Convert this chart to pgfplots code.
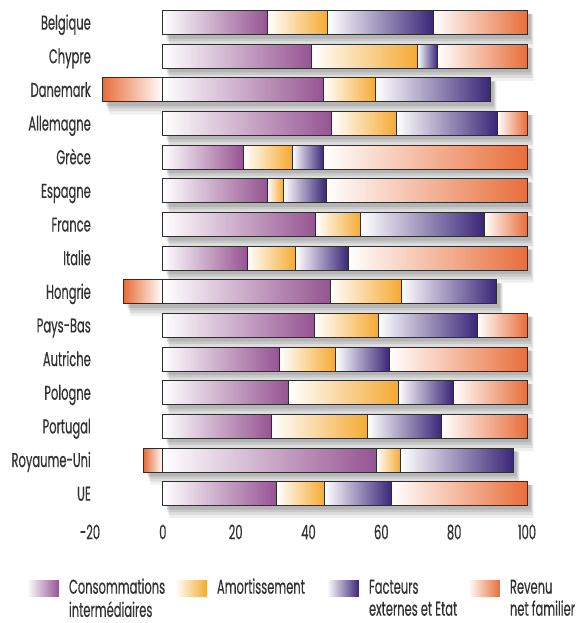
\documentclass[border=0pt]{standalone}
\usepackage{pgfplots}
\pgfplotsset{compat=1.18}
\usepackage{pgfplotstable}
\usepackage{fontspec}
\setmainfont{Poppins}[FakeStretch=0.575, FakeBold=0.4]
\definecolor{cons}{RGB}{150,84,146}
\definecolor{amort}{RGB}{245,170,50}
\definecolor{fact}{RGB}{58,38,120}
\definecolor{rev}{RGB}{232,110,58}
\definecolor{txt}{RGB}{50,50,50}
\definecolor{edge}{RGB}{45,45,45}

% idx: 0 = Belgique (top) ... 14 = UE (bottom)
\pgfplotstableread{
idx Cons Amort Fact Rev Tot
0  28.7 16.5 29.1 25.7 100
1  40.8 29.0 5.6  24.6 100
2  44.2 14.2 31.5 0    89.9
3  46.4 17.7 27.7 8.2  100
4  22.1 13.4 8.7  55.8 100
5  28.6 4.5  11.7 55.2 100
6  42.0 12.4 33.8 11.8 100
7  23.1 13.4 14.4 49.1 100
8  45.9 19.5 26.2 0    91.6
9  41.6 17.5 27.3 13.6 100
10 32.0 15.4 14.8 37.8 100
11 34.5 30.1 15.1 20.3 100
12 29.8 26.5 20.3 23.4 100
13 58.6 6.7  30.9 0    96.2
14 31.3 13.1 18.4 37.2 100
}\data

\pgfplotstableread{
idx Neg
2  -16.5
8  -10.7
13 -5.2
}\neg

\pgfplotsset{
  base/.style={scale only axis, width=437bp, height=504.7bp,
    xmin=-20, xmax=100, ymin=-0.5, ymax=14.5, y dir=reverse,
    at={(90bp,-510.5bp)}, anchor=south west, clip=false},
  shadowlayer/.style={fill=black, draw=none, bar shift=0pt},
  seg/.style={draw=edge, line width=0.9bp, left color=white},
  negbar/.style={draw=edge, line width=0.9bp, bar shift=0pt, bar width=24bp,
    left color=rev, right color=white}
}
\newcommand{\lf}{\fontsize{20bp}{22bp}\selectfont}

\begin{document}
\begin{tikzpicture}
\path[use as bounding box] (0,0) rectangle (577bp,-623bp);

% shadows and negative bars
\begin{axis}[base, hide axis, xbar]
\addplot[shadowlayer, fill opacity=0.06, bar width=33bp, xshift=6.5bp, yshift=-8bp] table[x=Tot,y=idx]{\data};
\addplot[shadowlayer, fill opacity=0.08, bar width=30bp, xshift=5.5bp, yshift=-6.5bp] table[x=Tot,y=idx]{\data};
\addplot[shadowlayer, fill opacity=0.09, bar width=27bp, xshift=4.5bp, yshift=-5bp] table[x=Tot,y=idx]{\data};
\addplot[shadowlayer, fill opacity=0.10, bar width=25bp, xshift=3.5bp, yshift=-3.5bp] table[x=Tot,y=idx]{\data};
\addplot[shadowlayer, fill opacity=0.06, bar width=33bp, xshift=6.5bp, yshift=-8bp] table[x=Neg,y=idx]{\neg};
\addplot[shadowlayer, fill opacity=0.08, bar width=30bp, xshift=5.5bp, yshift=-6.5bp] table[x=Neg,y=idx]{\neg};
\addplot[shadowlayer, fill opacity=0.09, bar width=27bp, xshift=4.5bp, yshift=-5bp] table[x=Neg,y=idx]{\neg};
\addplot[shadowlayer, fill opacity=0.10, bar width=25bp, xshift=3.5bp, yshift=-3.5bp] table[x=Neg,y=idx]{\neg};
\addplot[negbar, restrict expr to domain={\coordindex}{0:0}] table[x=Neg,y=idx]{\neg};
\addplot[negbar, restrict expr to domain={\coordindex}{1:1}] table[x=Neg,y=idx]{\neg};
\addplot[negbar, restrict expr to domain={\coordindex}{2:2}] table[x=Neg,y=idx]{\neg};
\end{axis}

% stacked bars, one axis per country so that each segment is shaded on its own
\pgfplotsinvokeforeach{0,...,14}{
  \pgfplotstablegetelem{#1}{Rev}\of\data
  \pgfmathtruncatemacro\hasrev{\pgfplotsretval>0 ? 1 : 0}
  \begin{axis}[base, hide axis, xbar stacked, bar width=24bp]
  \addplot[seg, right color=cons, restrict expr to domain={\coordindex}{#1:#1}] table[x=Cons,y=idx]{\data};
  \addplot[seg, right color=amort, restrict expr to domain={\coordindex}{#1:#1}] table[x=Amort,y=idx]{\data};
  \addplot[seg, right color=fact, restrict expr to domain={\coordindex}{#1:#1}] table[x=Fact,y=idx]{\data};
  \ifnum\hasrev=1
  \addplot[seg, right color=rev, restrict expr to domain={\coordindex}{#1:#1}] table[x=Rev,y=idx]{\data};
  \fi
  \end{axis}
}

% labels, ticks and legend
\begin{axis}[base,
  axis line style={draw=none}, major tick length=0pt,
  ytick={0,...,14},
  yticklabels={Belgique,Chypre,Danemark,Allemagne,Gr\`ece,Espagne,France,Italie,Hongrie,Pays-Bas,Autriche,Pologne,Portugal,Royaume-Uni,UE},
  xtick={-20,0,20,40,60,80,100},
  xticklabels={-20,0,20,40,60,80,100},
  tick label style={font=\lf, text=txt, inner sep=0pt},
  yticklabel style={anchor=base east, xshift=1bp, yshift=-7bp},
  xticklabel style={anchor=base, yshift=-28.8bp},
  legend columns=4,
  legend style={at={(-0.1442,-0.1191)}, anchor=north west, draw=none, fill=none,
    inner sep=0pt, outer sep=0pt, column sep=0pt,
    nodes={inner sep=0pt, outer sep=0pt, text=txt, font=\lf},
    cells={anchor=west},
    /tikz/every odd column/.append style={column sep=10bp}},
  legend image code/.code={
    \pgfpathrectanglecorners{\pgfpoint{0bp}{-22bp}}{\pgfpoint{32bp}{22bp}}%
    \pgfusepath{use as bounding box}%
    \path[#1, draw=none] (0bp,-3.4bp) rectangle (32bp,12.6bp);
  },
]
\addlegendimage{left color=white, right color=cons}
\addlegendentry{\parbox[c][44bp][t]{106bp}{\strut Consommations\\interm\'ediaires}}
\addlegendimage{left color=white, right color=amort}
\addlegendentry{\parbox[c][44bp][t]{110bp}{\strut Amortissement\\\strut}}
\addlegendimage{left color=white, right color=fact}
\addlegendentry{\parbox[c][44bp][t]{99bp}{\strut Facteurs\\externes et Etat}}
\addlegendimage{left color=white, right color=rev}
\addlegendentry{\parbox[c][44bp][t]{70bp}{\strut Revenu\\net familier}}
\end{axis}
\end{tikzpicture}
\end{document}
